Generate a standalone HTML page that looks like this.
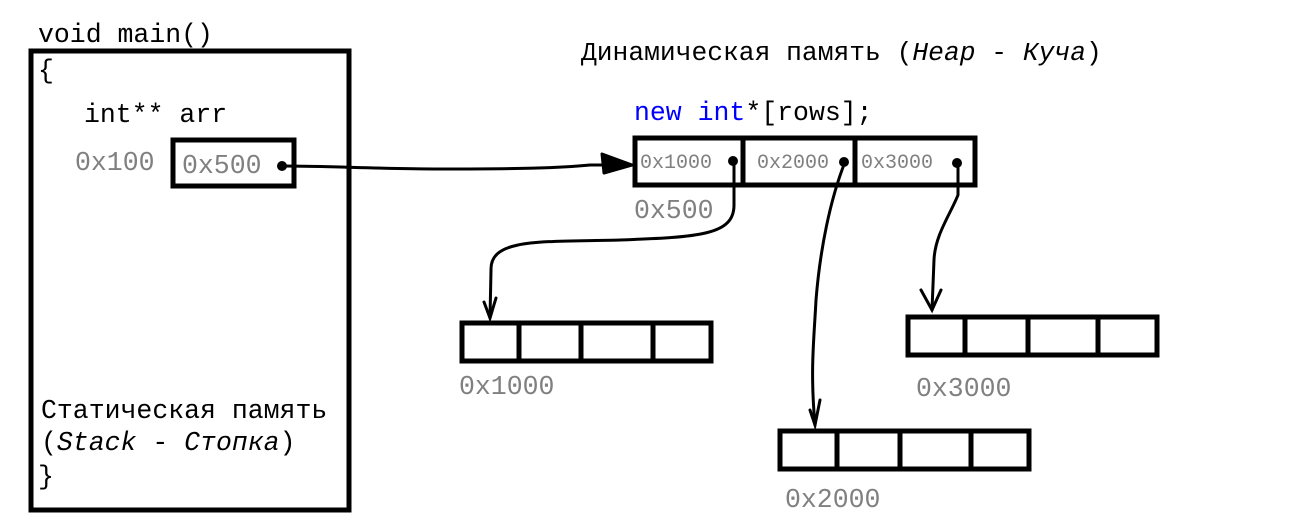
<!DOCTYPE html>
<html><head><meta charset="utf-8"><style>
html,body{margin:0;padding:0;background:#fff;}
svg{display:block;}
text{font-family:"Liberation Mono","DejaVu Sans Mono",monospace;}
</style></head><body>
<svg width="1316" height="528" viewBox="0 0 1316 528" xmlns="http://www.w3.org/2000/svg">
<g fill="none" stroke="#000" stroke-width="5">
<rect x="31" y="51" width="318" height="459"/>
<rect x="173" y="140" width="121" height="46"/>
<rect x="635" y="138" width="340" height="47"/>
<line x1="743" y1="138" x2="743" y2="185"/>
<line x1="855" y1="138" x2="855" y2="185"/>
<rect x="462" y="323" width="249" height="38"/>
<line x1="519" y1="323" x2="519" y2="361"/>
<line x1="581" y1="323" x2="581" y2="361"/>
<line x1="653" y1="323" x2="653" y2="361"/>
<rect x="908" y="317" width="249" height="38"/>
<line x1="965" y1="317" x2="965" y2="355"/>
<line x1="1028" y1="317" x2="1028" y2="355"/>
<line x1="1098" y1="317" x2="1098" y2="355"/>
<rect x="780" y="431" width="249" height="38"/>
<line x1="837" y1="431" x2="837" y2="469"/>
<line x1="900" y1="431" x2="900" y2="469"/>
<line x1="971" y1="431" x2="971" y2="469"/>
</g>
<g fill="none" stroke="#000" stroke-width="3" stroke-linecap="round">
<path d="M283 166 C330 166,380 169,440 169 C520 169,560 168,590 165 L630 165"/>
<path d="M734 162 L734 205 C734 235,700 237,620 240 C540 242,490 238,491 270 L490 318"/>
<path d="M484 302 L490 318 L496 298"/>
<path d="M845 162 C830 200,820 250,816 300 C814 340,810 370,815 425"/>
<path d="M810 410 L815 425 L820 400"/>
<path d="M958 163 L958 195 C950 215,935 235,934 260 L932 310"/>
<path d="M921 290 L932 310 L941 290"/>
</g>
<path d="M602 154 L632 165 L604 173 Z" fill="#000" stroke="#000" stroke-width="3" stroke-linejoin="round"/>
<g fill="#000">
<circle cx="282" cy="166" r="5"/>
<circle cx="733" cy="161" r="5"/>
<circle cx="844" cy="162" r="5"/>
<circle cx="957" cy="163" r="5"/>
</g>
<g font-size="26.5" fill="#000">
<text x="38" y="42">void main()</text>
<text x="38" y="78">{</text>
<text x="84" y="122">int** arr</text>
<text x="41" y="418">Статическая память</text>
<text x="41" y="450">(<tspan font-style="italic">Stack</tspan> - <tspan font-style="italic">Стопка</tspan>)</text>
<text x="38" y="484">}</text>
<text x="581" y="60" font-size="26.3">Динамическая память (<tspan font-style="italic">Heap</tspan> - <tspan font-style="italic">Куча</tspan>)</text>
<text x="634" y="120"><tspan fill="#0000ff">new int</tspan>*[rows];</text>
</g>
<g font-size="26.5" fill="#808080">
<text x="75" y="170">0x100</text>
<text x="182" y="173">0x500</text>
<text x="634" y="218">0x500</text>
<text x="459" y="394">0x1000</text>
<text x="916" y="396">0x3000</text>
<text x="785" y="507">0x2000</text>
</g>
<g font-size="20" fill="#808080">
<text x="640" y="168">0x1000</text>
<text x="757" y="168">0x2000</text>
<text x="861" y="168">0x3000</text>
</g>
</svg>
</body></html>
